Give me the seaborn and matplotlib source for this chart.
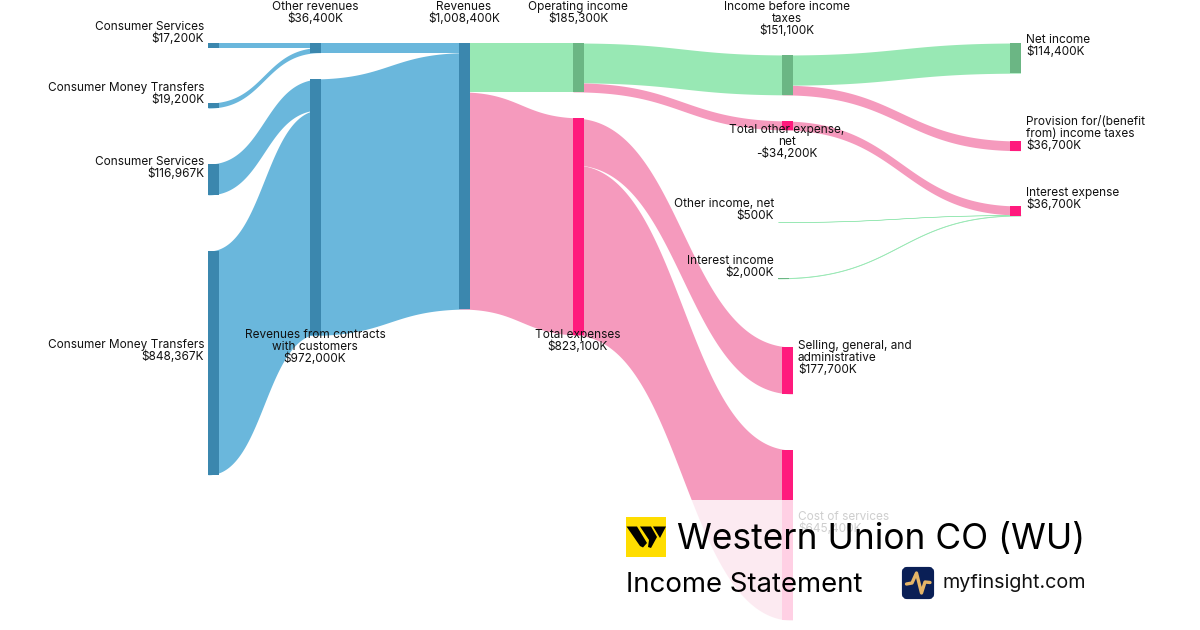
'''Western Union income statement sankey'''
import numpy as np
import seaborn as sns
import matplotlib.pyplot as plt
from matplotlib.patches import Polygon, Rectangle, FancyBboxPatch

# data, in $K
node_names = [
    ['Consumer Services'], ['Consumer Money Transfers'], ['Consumer Services'], ['Consumer Money Transfers'],
    ['Other revenues'], ['Revenues from contracts', 'with customers'], ['Revenues'],
    ['Operating income'], ['Total expenses'], ['Income before income', 'taxes'],
    ['Total other expense,', 'net'], ['Other income, net'], ['Interest income'],
    ['Selling, general, and', 'administrative'], ['Cost of services'], ['Net income'],
    ['Provision for/(benefit', 'from) income taxes'], ['Interest expense'],
]
node_values = [17200, 19200, 116967, 848367, 36400, 972000, 1008400, 185300, 823100,
               151100, -34200, 500, 2000, 177700, 645400, 114400, 36700, 36700]
node_kinds = ['rev', 'rev', 'rev', 'rev', 'rev', 'rev', 'rev', 'inc', 'exp',
              'inc', 'exp', 'inc', 'inc', 'exp', 'exp', 'inc', 'exp', 'exp']

link_source = [0, 1, 2, 3, 4, 5, 6, 6, 7, 7, 8, 8, 9, 9, 10, 11, 12]
link_target = [4, 4, 5, 5, 6, 6, 7, 8, 9, 10, 13, 14, 15, 16, 17, 17, 17]
link_values = [17200, 19200, 116967, 848367, 36400, 972000, 185300, 823100, 151100, 34200,
               177700, 645400, 114400, 36700, 34200, 500, 2000]
link_kinds = ['rev', 'rev', 'rev', 'rev', 'rev', 'rev', 'inc', 'exp', 'inc', 'exp',
              'exp', 'exp', 'inc', 'exp', 'exp', 'inc', 'inc']

# layout, in pixels of the 1200x630 picture
column_left = [208, 310, 459, 573, 782, 1010]
node_width = 10.5
node_column = [0, 0, 0, 0, 1, 1, 2, 3, 3, 4, 4, 4, 4, 4, 4, 5, 5, 5]
node_nudge = [0, 0, 0, 0, 0, 0, 0, 0, 0, 0, 0, -4, -4, 0, 0, 0, 0, 0]
node_top = [43, 103, 164, 251, 43, 79, 43, 43, 118, 55, 121, 222, 278, 347, 450, 43, 141, 206]
px_per_k = 266 / 1008400

label_anchor = [
    (204, 27, 'right'), (204, 88, 'right'), (204, 162, 'right'), (204, 345, 'right'),
    (315, 7, 'center'), (315, 335, 'center'), (464, 7, 'center'),
    (578, 7, 'center'), (578, 335, 'center'), (787, 7, 'center'),
    (787, 130, 'center'), (774, 204, 'right'), (774, 261, 'right'),
    (798, 346, 'left'), (798, 517, 'left'), (1026, 40, 'left'),
    (1026, 122, 'left'), (1026, 193, 'left'),
]

link_colors = {'rev': '#6AB7DC', 'inc': '#98E8B4', 'exp': '#F59ABD'}
node_colors = {'rev': '#3B87AE', 'inc': '#6BB684', 'exp': '#FF1A7D'}

sns.set_theme(style='white')
plt.rcParams['font.family'] = ['Inter', 'DejaVu Sans']

fig = plt.figure(figsize=(12, 6.3), dpi=100)
ax = fig.add_axes([0, 0, 1, 1])
ax.set_xlim(0, 1200)
ax.set_ylim(630, 0)
ax.axis('off')


def ribbon(x0, x1, y0, y1, thickness, color):
    t = np.linspace(0, 1, 120)
    xm = (x0 + x1) / 2
    x = (1 - t)**3 * x0 + 3 * (1 - t)**2 * t * xm + 3 * (1 - t) * t**2 * xm + t**3 * x1
    y = (1 - t)**3 * y0 + 3 * (1 - t)**2 * t * y0 + 3 * (1 - t) * t**2 * y1 + t**3 * y1
    thin = thickness < 1
    ax.fill_between(x, y, y + thickness, color=color, lw=0.35 if thin else 0, zorder=1)


# stack the links on each node in the order they are listed
out_used = [0.0] * len(node_values)
in_used = [0.0] * len(node_values)
for s, t, v, k in zip(link_source, link_target, link_values, link_kinds):
    h = v * px_per_k
    x0 = column_left[node_column[s]] + node_nudge[s]
    x1 = column_left[node_column[t]] + node_width
    ribbon(x0, x1, node_top[s] + out_used[s], node_top[t] + in_used[t], h, link_colors[k])
    out_used[s] += h
    in_used[t] += h

for i, v in enumerate(node_values):
    h = abs(v) * px_per_k
    c = node_colors[node_kinds[i]]
    ax.bar(column_left[node_column[i]] + node_nudge[i], h, width=node_width, bottom=node_top[i], align='edge',
           color=c, lw=0, zorder=2)

for names, v, (x, y, ha) in zip(node_names, node_values, label_anchor):
    value_text = f'-${-v:,}K' if v < 0 else f'${v:,}K'
    for j, line in enumerate(names + [value_text]):
        ax.text(x, y + 12 * j, line, fontsize=8.5, ha=ha, va='center', color='#111111', zorder=3)

# title block sits on a translucent white panel
ax.add_patch(Rectangle((600, 500), 510, 130, color='white', alpha=0.8, lw=0, zorder=4))

ax.add_patch(Rectangle((626, 517), 40, 40, color='#FFDD00', lw=0, zorder=5))
for pts in ([(626.5, 526.5), (637, 526.5), (647, 543), (643, 547.5), (640, 546)],
            [(640, 526.5), (651, 526.5), (657, 537), (651, 548), (648, 547), (649, 540)],
            [(653, 526.5), (666, 526.5), (660, 538)]):
    ax.add_patch(Polygon(pts, closed=True, color='black', lw=0, zorder=6))

ax.text(677, 540, 'Western Union CO (WU)', fontsize=25.45, ha='left', va='center', color='black', zorder=6)
ax.text(626, 585, 'Income Statement', fontsize=19.85, ha='left', va='center', color='black', zorder=6)

ax.add_patch(FancyBboxPatch((904, 569), 28, 28, boxstyle='round,pad=0,rounding_size=3', mutation_scale=1,
                            fc='#0A1F56', ec='#0A1F56', lw=3, zorder=5))
ax.plot([906.5, 912, 916.5, 921.5, 925, 930], [584, 583, 573, 593, 582, 582.5], color='#E5B567', lw=2.4,
        solid_capstyle='round', solid_joinstyle='round', zorder=6)
ax.text(942, 583.5, 'myfinsight.com', fontsize=14.2, ha='left', va='center', color='#111111', zorder=6)

fig.savefig('out.png', dpi=100)
